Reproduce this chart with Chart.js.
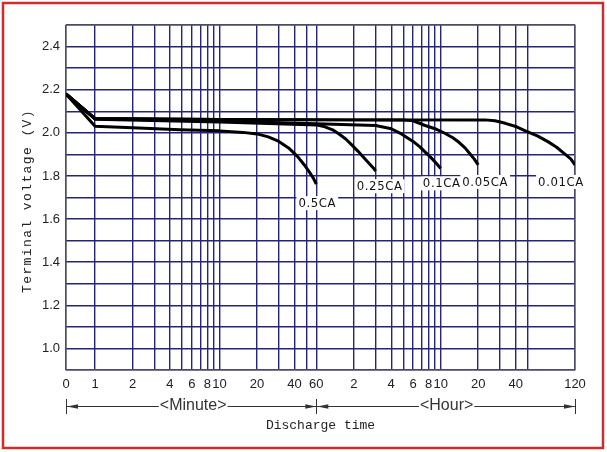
<!DOCTYPE html>
<html><head><meta charset="utf-8">
<script src="https://cdn.jsdelivr.net/npm/chart.js@4/dist/chart.umd.min.js"></script>
<style>html,body{margin:0;padding:0;background:#fff;}#wrap{position:relative;width:607px;height:452px;}</style>
</head><body><div id="wrap"><canvas id="c" width="607" height="452"></canvas></div>
<script>
// ---- data (time in minutes, voltage in V) ----
const X_ZERO = 0.584; // the axis "0" position (log axis start)
const xTickValues = [0,1,2,3,4,5,6,7,8,9,10,20,30,40,50,60,120,180,240,300,360,420,480,540,600,1200,1800,2400,3000,7200];
const xTickLabels = ['0','1','2','','4','','6','','8','','10','20','','40','','60','2','','4','','6','','8','','10','20','','40','','120'];
const yTickValues = [0.9,1.0,1.1,1.2,1.3,1.4,1.5,1.6,1.7,1.8,1.9,2.0,2.1,2.2,2.3,2.4,2.5];
const yTickLabels = ['','1.0','','1.2','','1.4','','1.6','','1.8','','2.0','','2.2','','2.4',''];
const seriesNames = ['0.5CA','0.25CA','0.1CA','0.05CA','0.01CA'];

const time05 = [0,1,2,4.8,10,15.4,20,24.7,30,35.9,42.3,48.1,53.5,57,60];
const volt05 = [2.18,2.03,2.023,2.014,2.009,2.002,1.995,1.981,1.96,1.93,1.891,1.851,1.813,1.788,1.762];
const time025 = [0,1,10,61,70.4,81.2,92,104,115.6,130,143,159.6,172.4,180];
const volt025 = [2.18,2.063,2.05,2.036,2.028,2.014,1.993,1.97,1.944,1.914,1.888,1.858,1.837,1.822];
const time01 = [0,1,10,60,180,240,290,360,408,444,499,550,600];
const volt01 = [2.18,2.065,2.055,2.042,2.034,2.019,1.995,1.96,1.935,1.914,1.886,1.86,1.835];
const time005 = [0,1,10,100,294,360,444,540,647,751,841,941,1033,1113,1200];
const volt005 = [2.18,2.066,2.062,2.06,2.06,2.056,2.035,2.019,1.998,1.977,1.956,1.93,1.902,1.879,1.851];
const time001 = [0,1,10,100,1364,1638,1985,2443,2934,3588,4392,5125,5879,6655,7200];
const volt001 = [2.18,2.066,2.062,2.06,2.06,2.056,2.044,2.028,2.007,1.986,1.958,1.933,1.905,1.879,1.851];

const seriesTimes = [time05,time025,time01,time005,time001];
const seriesVolts = [volt05,volt025,volt01,volt005,volt001];
// label offsets (px) from each curve's end point
const labelOffsets = [[1,19],[4,15],[1,15],[7,17],[-14,17]];

const GRID = '#24247a';
const TXT = '#222';
const SANS = '"Liberation Sans", Arial, sans-serif';
const NARROW = '"Liberation Sans Narrow", "DejaVu Sans Condensed", "Liberation Sans", sans-serif';
const MONO = '"Liberation Mono", "DejaVu Sans Mono", monospace';

const datasets = seriesNames.map((name, i) => ({
  label: name,
  data: seriesTimes[i].map((t, j) => ({x: t === 0 ? X_ZERO : t, y: seriesVolts[i][j]})),
  borderColor: '#000',
  borderWidth: 3,
  borderJoinStyle: 'round',
  pointRadius: 0,
  fill: false,
  tension: 0
}));

const framePlugin = {
  id: 'frame',
  beforeDatasetsDraw(chart) {
    const {ctx, chartArea: a} = chart;
    ctx.save();
    ctx.strokeStyle = '#666';
    ctx.lineWidth = 1.2;
    ctx.strokeRect(a.left, a.top, a.right - a.left, a.bottom - a.top);
    ctx.restore();
  }
};

const curveLabelPlugin = {
  id: 'curveLabels',
  afterDatasetsDraw(chart) {
    const ctx = chart.ctx;
    ctx.save();
    ctx.font = '13px ' + NARROW;
    ctx.textAlign = 'center';
    ctx.textBaseline = 'middle';
    try { ctx.letterSpacing = '0.6px'; } catch (e) {}
    chart.data.datasets.forEach((ds, i) => {
      const meta = chart.getDatasetMeta(i);
      const last = meta.data[meta.data.length - 1];
      const cx = last.x + labelOffsets[i][0];
      const cy = last.y + labelOffsets[i][1];
      const w = ctx.measureText(ds.label).width + 4;
      ctx.fillStyle = '#fff';
      ctx.fillRect(cx - w / 2, cy - 7, w, 14);
      ctx.fillStyle = '#111';
      ctx.fillText(ds.label, cx, cy + 0.5);
    });
    ctx.restore();
  }
};

const decorPlugin = {
  id: 'decor',
  afterDraw(chart) {
    const ctx = chart.ctx;
    const xs = chart.scales.x;
    const a = chart.chartArea;
    const x0 = xs.getPixelForValue(X_ZERO);
    const xm = xs.getPixelForValue(60);
    const x1 = xs.getPixelForValue(7200);
    const y = a.bottom + 36;
    ctx.save();
    ctx.strokeStyle = '#333';
    ctx.fillStyle = '#333';
    ctx.lineWidth = 1;
    ctx.beginPath();
    ctx.moveTo(x0, y + 0.5); ctx.lineTo(x1, y + 0.5);
    [x0, xm, x1].forEach(x => { ctx.moveTo(Math.round(x) + 0.5, y - 7); ctx.lineTo(Math.round(x) + 0.5, y + 8); });
    ctx.stroke();
    const arrow = (tip, dir) => {
      ctx.beginPath();
      ctx.moveTo(tip, y + 0.5);
      ctx.lineTo(tip + dir * 11, y - 1.8);
      ctx.lineTo(tip + dir * 11, y + 2.8);
      ctx.closePath();
      ctx.fill();
    };
    arrow(x0 + 1, 1); arrow(xm, -1); arrow(xm + 1, 1); arrow(x1, -1);
    ctx.font = '16px ' + SANS;
    ctx.textAlign = 'center';
    ctx.textBaseline = 'middle';
    const txt = (s, cx) => {
      const w = ctx.measureText(s).width + 2;
      ctx.fillStyle = '#fff';
      ctx.fillRect(cx - w / 2, y - 8, w, 17);
      ctx.fillStyle = '#333';
      ctx.fillText(s, cx, y);
    };
    txt('<Minute>', (x0 + xm) / 2 + 2);
    txt('<Hour>', (xm + x1) / 2 + 1);
    ctx.fillStyle = TXT;
    ctx.font = '13px ' + MONO;
    ctx.fillText('Discharge time', (a.left + a.right) / 2, a.bottom + 56);
    ctx.translate(28, 201);
    ctx.rotate(-Math.PI / 2);
    try { ctx.letterSpacing = '1.4px'; } catch (e) {}
    ctx.fillText('Terminal voltage (V)', 0, 0);
    ctx.restore();
    ctx.save();
    ctx.strokeStyle = '#d22b2b';
    ctx.lineWidth = 2.5;
    ctx.strokeRect(3, 3, 600, 445);
    ctx.restore();
  }
};

new Chart(document.getElementById('c'), {
  type: 'line',
  data: {datasets},
  options: {
    responsive: false,
    animation: false,
    devicePixelRatio: 1,
    layout: {padding: {left: 0, right: 32, top: 25, bottom: 0}},
    plugins: {legend: {display: false}, tooltip: {enabled: false}},
    scales: {
      x: {
        type: 'logarithmic',
        min: X_ZERO, max: 7200, bounds: 'data',
        afterBuildTicks: s => { s.ticks = xTickValues.map(v => ({value: v === 0 ? X_ZERO : v})); },
        afterFit: s => { s.height = 82; },
        grid: {color: GRID, lineWidth: 1.4, drawTicks: false},
        border: {display: false},
        ticks: {
          autoSkip: false, maxRotation: 0, minRotation: 0, padding: 7,
          color: TXT, font: {family: SANS, size: 13},
          callback: (v, i) => xTickLabels[i]
        }
      },
      y: {
        type: 'linear',
        min: 0.9, max: 2.5,
        afterBuildTicks: s => { s.ticks = yTickValues.map(v => ({value: v})); },
        afterFit: s => { s.width = 66; },
        grid: {color: GRID, lineWidth: 1.4, drawTicks: false},
        border: {display: false},
        ticks: {
          padding: 6, color: TXT, font: {family: SANS, size: 13},
          callback: (v, i) => yTickLabels[i]
        }
      }
    }
  },
  plugins: [framePlugin, curveLabelPlugin, decorPlugin]
});
</script></body></html>
